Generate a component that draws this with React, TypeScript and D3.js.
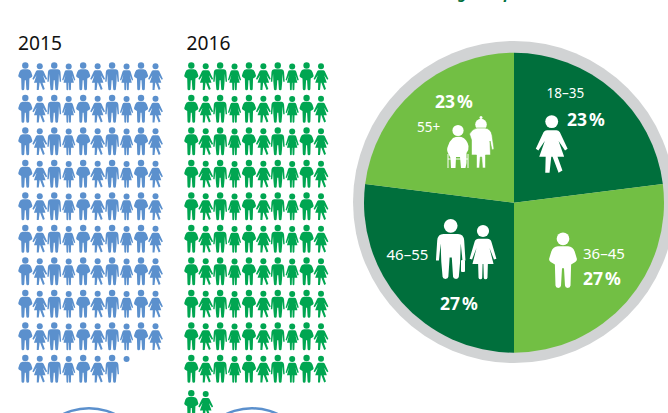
import React from "react";
import * as d3 from "d3";

const W = 668, H = 413;
const years = ["2015", "2016"];
const peopleCounts = [97.2, 102];
const ageGroups = ["18–35", "36–45", "46–55", "55+"];
const ageShares = [23, 27, 27, 23];
const cutOffTitleLetters = ["g", "p"];

const BLUE = "#5b90cd", GREEN = "#00a651", DARK = "#006f3c", LIGHT = "#72bf44", GREY = "#d1d3d4";
const FONT = "'Noto Sans', 'Open Sans', sans-serif";

// pictogram glyphs, drawn in a 28-unit tall box, centred on x=0
const man1 = "M-2.6 7H2.6Q5 7.2 5.9 9.6L7 13.2Q7.2 14.3 6.2 14.9L4.1 16.2L3.8 26.8Q3.7 28 2.4 28Q1.1 28 1 26.8L.5 18H-.5L-1 26.8Q-1.1 28-2.4 28Q-3.7 28-3.8 26.8L-4.1 16.2L-6.2 14.9Q-7.2 14.3-7 13.2L-5.9 9.6Q-5 7.2-2.6 7Z";
const woman1 = "M-2.2 8H2.2Q3.2 8 3.8 9L7.4 16.6L6.2 17.4L3.2 13L5.8 20.4H2.7L5 26.8L3.2 27.8L.4 20.4H-.2L-1 27.8H-3L-2.8 20.4H-5.8L-3.2 13L-6.2 17.4L-7.4 16.6L-3.8 9Q-3.2 8-2.2 8Z";
const man2 = "M-3.4 7H3.4Q6 7 6.3 10L6.9 19.4H5.5L4.7 11.4L4.4 20L3.8 27Q3.7 28 2.5 28Q1.2 28 1.1 27L.5 18H-.5L-1.1 27Q-1.2 28-2.5 28Q-3.7 28-3.8 27L-4.4 20L-4.7 11.4L-5.5 19.4H-6.9L-6.3 10Q-6 7-3.4 7Z";
const woman2 = "M-2.2 8H2.2Q3.6 8 4.1 9.4L6.6 17.8L5.4 18.2L3.2 12.6L5.2 20.4H2.4L2.2 27.2Q2.1 28 1.2 28Q.5 28 .4 27.2L.2 20.4H-.2L-.4 27.2Q-.5 28-1.2 28Q-2.1 28-2.2 27.2L-2.4 20.4H-5.2L-3.2 12.6L-5.4 18.2L-6.6 17.8L-4.1 9.4Q-3.6 8-2.2 8Z";
const glyphs = [
  { d: man1, cy: 3.2, r: 3.2 },
  { d: woman1, cy: 4, r: 3 },
  { d: man2, cy: 3.2, r: 3.2 },
  { d: woman2, cy: 4.2, r: 3 },
];
const seated = "M-5 -9Q-1 -11 3.5 -10Q9 -8 10.5 -1Q11 3 8.5 6L8.5 9Q9 16 7.5 21H3L2 10H-2L-2.5 21H-7L-7.5 11L-9.5 7Q-12 3-10 -1Q-8.5 -6-5 -9Z";
const standing = "M-4 -19H4Q10 -18 11 -12L13 2L11 3L9 -6L9.5 8H4.5V21H1.5L.7 10H-.7L-1.5 21H-4.5L-4.5 8H-9.5L-9.5 -7L-11.5 -13Q-9 -18-4 -19Z";

function Figure({ kind, x, y, fill, k = 1, headOnly = false }: any) {
  const g = glyphs[kind];
  return (
    <g transform={`translate(${x},${y}) scale(${k})`} fill={fill}>
      <circle cx={0} cy={g.cy} r={g.r} />
      {!headOnly && <path d={g.d} />}
    </g>
  );
}

const colScales = [
  d3.scalePoint<number>().domain(d3.range(10)).range([25.3, 155.5]),
  d3.scalePoint<number>().domain(d3.range(10)).range([191.3, 321]),
];
const rowScale = d3.scaleLinear().domain([0, 9, 10]).range([62.3, 354.8, 390]);
const patternKinds = [0, 1, 2, 3];

const cx = 514, cy = 202.7;
const pieGen = d3.pie<number>().sort(null);
const arcGen = d3.arc<d3.PieArcDatum<number>>().innerRadius(0).outerRadius(150);
const sliceFill = d3.scaleOrdinal<number, string>().domain([0, 1, 2, 3]).range([DARK, LIGHT, DARK, LIGHT]);
const ringOuter = 161;

export default function App() {
  const slices = pieGen(ageShares);
  const bottomCircle = d3.arc()({ innerRadius: 58.5, outerRadius: 61, startAngle: -0.6, endAngle: 0.6 } as any) as string;
  const yearLabelX = [18, 186.5];
  // label anchors for the pie, in the order of ageGroups
  const groupLabelXY = [[546.5, 98], [583, 258.5], [386.5, 260], [417, 132]];
  const groupLabelSize = [13.5, 15, 15, 13.5];
  const shareLabelXY = [[567, 126], [583, 284.5], [440, 310], [435, 108]];
  return (
    <svg width={W} height={H} viewBox={`0 0 ${W} ${H}`}
      style={{ position: "fixed", left: 0, top: 0, display: "block", background: "#fff" }}>
      <text fontFamily={FONT} fontWeight={700} fontStyle="italic" fontSize={15} fill={DARK}>
        <tspan x={458} y={-1.5}>{cutOffTitleLetters[0]}</tspan>
        <tspan x={504} y={-1.5}>{cutOffTitleLetters[1]}</tspan>
      </text>

      {years.map((yr, yi) => (
        <g key={yr}>
          <text x={yearLabelX[yi]} y={50} fontFamily={FONT} fontSize={20} fill="#111" textLength={44} lengthAdjust="spacingAndGlyphs">{yr}</text>
          {d3.range(Math.ceil(peopleCounts[yi])).map((i) => {
            const col = i % 10, row = Math.floor(i / 10);
            const partial = i + 1 > peopleCounts[yi];
            return (
              <Figure key={i} kind={patternKinds[col % 4]} x={colScales[yi](col)} y={rowScale(row)}
                fill={yi === 0 ? BLUE : GREEN} headOnly={partial} />
            );
          })}
        </g>
      ))}

      {[89, 252].map((x) => (
        <path key={x} d={bottomCircle} transform={`translate(${x},468)`} fill={BLUE} />
      ))}

      <circle cx={cx} cy={cy - 0.7} r={ringOuter} fill={GREY} />
      <g transform={`translate(${cx},${cy})`}>
        {slices.map((s, i) => <path key={i} d={arcGen(s) as string} fill={sliceFill(i)} />)}
      </g>

      <g fill="#fff" fontFamily={FONT}>
        {ageGroups.map((a, i) => (
          <text key={a} x={groupLabelXY[i][0]} y={groupLabelXY[i][1]} fontSize={groupLabelSize[i]}>{a}</text>
        ))}
        {ageShares.map((v, i) => (
          <text key={i} x={shareLabelXY[i][0]} y={shareLabelXY[i][1]} fontSize={17.5} fontWeight={700} wordSpacing={-2.5}>{`${v} %`}</text>
        ))}
      </g>

      <Figure kind={1} x={551.7} y={113} fill="#fff" k={2.15} />
      <Figure kind={0} x={563} y={232.5} fill="#fff" k={1.98} />
      <Figure kind={2} x={450.7} y={219} fill="#fff" k={2.14} />
      <rect x={461} y={260} width={4} height={12} rx={1} fill="#fff" />
      <Figure kind={3} x={483} y={222.5} fill="#fff" k={2.03} />

      <g transform="translate(458,147)" fill="#fff">
        <circle cx={0} cy={-16.5} r={5.6} />
        <path d={seated} />
        <path d="M-10 7V21M10 7V21M-10 12H10" fill="none" stroke="#fff" strokeWidth={1} />
      </g>
      <g transform="translate(481,147)" fill="#fff" stroke={LIGHT} strokeWidth={0.6}>
        <circle cx={0} cy={-22.5} r={5.8} stroke="none" />
        <circle cx={0} cy={-29.5} r={1.5} stroke="none" />
        <path d={standing} />
      </g>
    </svg>
  );
}
